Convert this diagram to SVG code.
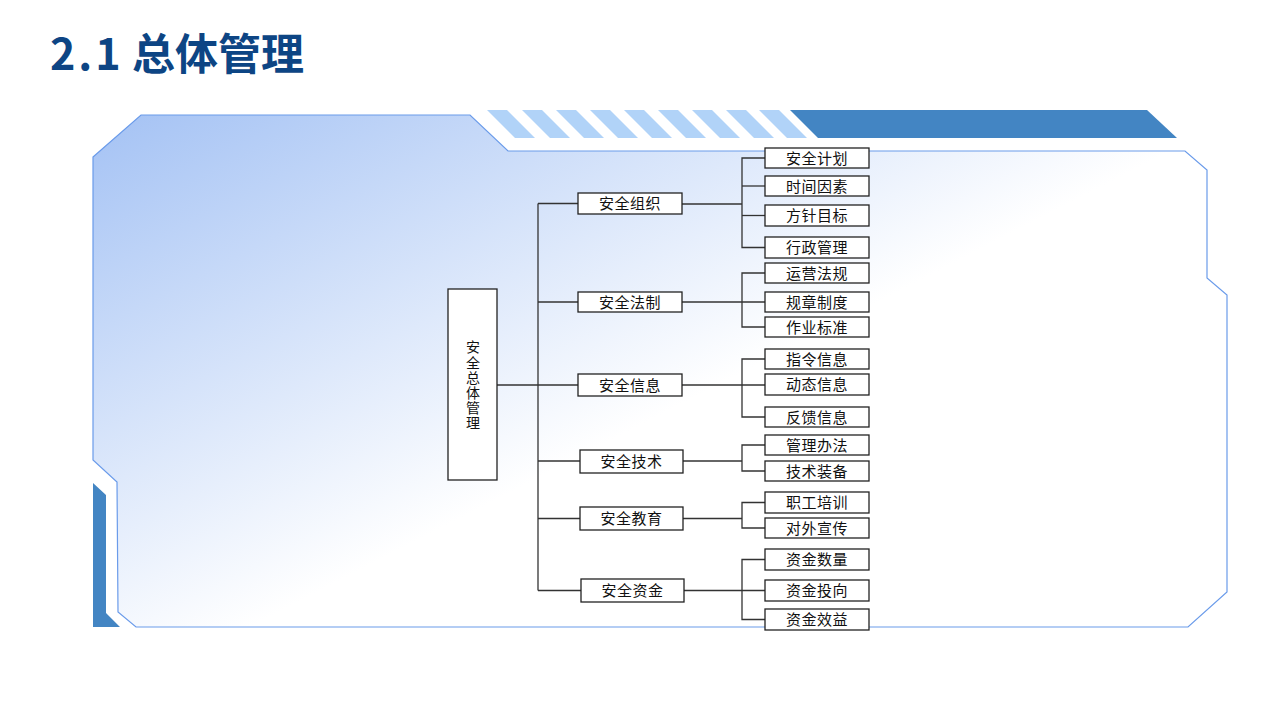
<svg xmlns="http://www.w3.org/2000/svg" width="1280" height="720" viewBox="0 0 1280 720">
  <defs>
    <linearGradient id="panelGrad" gradientUnits="userSpaceOnUse" x1="93" y1="115" x2="335" y2="583">
      <stop offset="0" stop-color="#A4C2F4"/>
      <stop offset="1" stop-color="#FFFFFF"/>
    </linearGradient>
    <style>
      .title { font-family: "Noto Sans CJK SC", "Liberation Sans", sans-serif; font-weight: 700; font-size: 43px; fill: #0D4584; }
      .box { fill: #FFFFFF; stroke: #222222; stroke-width: 1.3; }
      .lbl { font-family: "Noto Sans CJK SC", "Liberation Sans", sans-serif; font-size: 15px; fill: #111111; text-anchor: middle; letter-spacing: 0.5px; }
      .vlbl { font-family: "Noto Sans CJK SC", "Liberation Sans", sans-serif; font-size: 14px; fill: #111111; writing-mode: vertical-rl; letter-spacing: 1.2px; }
      .conn { fill: none; stroke: #333333; stroke-width: 1.3; }
      .stripe { fill: #B1D3F8; }
    </style>
  </defs>

  <rect x="0" y="0" width="1280" height="720" fill="#FFFFFF"/>

  <!-- title -->
  <text class="title" x="50" y="70"><tspan letter-spacing="3">2.1</tspan><tspan x="132">总体管理</tspan></text>

  <!-- decorative background -->
  <g id="decor">
    <polygon points="93,157 141,115 470,115 508,151 1185,151 1207,170 1207,278 1227,295 1227,592 1188,627 136,627 118,612 117,482 93,460" fill="url(#panelGrad)" stroke="#6A9BEA" stroke-width="1.2"/>
    <g id="stripes">
      <polygon class="stripe" points="487,110 507,110 535,138 515,138"/>
      <polygon class="stripe" points="522,110 542,110 570,138 550,138"/>
      <polygon class="stripe" points="556,110 576,110 604,138 584,138"/>
      <polygon class="stripe" points="590,110 610,110 638,138 618,138"/>
      <polygon class="stripe" points="624,110 644,110 672,138 652,138"/>
      <polygon class="stripe" points="658,110 678,110 706,138 686,138"/>
      <polygon class="stripe" points="692,110 712,110 740,138 720,138"/>
      <polygon class="stripe" points="726,110 746,110 774,138 754,138"/>
      <polygon class="stripe" points="759,110 779,110 807,138 787,138"/>
    </g>
    <polygon points="790,110 1147,110 1177,138 818,138" fill="#4385C3"/>
    <polygon points="93,483 106,495 106,613 120,627 93,627" fill="#4385C3"/>
  </g>

  <!-- connectors -->
  <g id="connectors">
    <line class="conn" x1="497" y1="385" x2="578" y2="385"/>
    <line class="conn" x1="538" y1="203.5" x2="538" y2="590.5"/>
    <line class="conn" x1="538" y1="203.5" x2="578" y2="203.5"/>
    <line class="conn" x1="538" y1="302" x2="578" y2="302"/>
    <line class="conn" x1="538" y1="461" x2="580" y2="461"/>
    <line class="conn" x1="538" y1="518.5" x2="580" y2="518.5"/>
    <line class="conn" x1="538" y1="590.5" x2="581" y2="590.5"/>

    <!-- group 1 -->
    <line class="conn" x1="682" y1="204" x2="742" y2="204"/>
    <polyline class="conn" points="765,158 742,158 742,247.5 765,247.5"/>
    <line class="conn" x1="742" y1="186" x2="765" y2="186"/>
    <line class="conn" x1="742" y1="215.5" x2="765" y2="215.5"/>
    <!-- group 2 -->
    <line class="conn" x1="682" y1="302" x2="765" y2="302"/>
    <polyline class="conn" points="765,273 742,273 742,327 765,327"/>
    <!-- group 3 -->
    <line class="conn" x1="682" y1="385" x2="765" y2="385"/>
    <polyline class="conn" points="765,359 742,359 742,417 765,417"/>
    <!-- group 4 -->
    <line class="conn" x1="683" y1="461" x2="742" y2="461"/>
    <polyline class="conn" points="765,445 742,445 742,471 765,471"/>
    <!-- group 5 -->
    <line class="conn" x1="683" y1="518.5" x2="742" y2="518.5"/>
    <polyline class="conn" points="765,502.5 742,502.5 742,528 765,528"/>
    <!-- group 6 -->
    <line class="conn" x1="684" y1="590.5" x2="765" y2="590.5"/>
    <polyline class="conn" points="765,559.5 742,559.5 742,619.5 765,619.5"/>
  </g>

  <!-- root -->
  <g id="root">
    <rect class="box" x="448" y="289" width="49" height="191"/>
    <text class="vlbl" x="473" y="340">安全总体管理</text>
  </g>

  <!-- level 2 -->
  <g id="n-zuzhi"><rect class="box" x="578" y="193" width="104" height="21"/><text class="lbl" x="630" y="209">安全组织</text></g>
  <g id="n-fazhi"><rect class="box" x="578" y="292" width="104" height="20"/><text class="lbl" x="630" y="307.5">安全法制</text></g>
  <g id="n-xinxi"><rect class="box" x="578" y="374" width="104" height="22"/><text class="lbl" x="630" y="390.5">安全信息</text></g>
  <g id="n-jishu"><rect class="box" x="580" y="450" width="103" height="23"/><text class="lbl" x="631.5" y="467">安全技术</text></g>
  <g id="n-jiaoyu"><rect class="box" x="580" y="507" width="103" height="23"/><text class="lbl" x="631.5" y="524">安全教育</text></g>
  <g id="n-zijin"><rect class="box" x="581" y="579" width="103" height="23"/><text class="lbl" x="632.5" y="596">安全资金</text></g>

  <!-- level 3 -->
  <g id="n-jihua"><rect class="box" x="765" y="148" width="104" height="20"/><text class="lbl" x="817" y="163.5">安全计划</text></g>
  <g id="n-shijian"><rect class="box" x="765" y="176" width="104" height="20"/><text class="lbl" x="817" y="191.5">时间因素</text></g>
  <g id="n-fangzhen"><rect class="box" x="765" y="205" width="104" height="21"/><text class="lbl" x="817" y="221">方针目标</text></g>
  <g id="n-xingzheng"><rect class="box" x="765" y="237" width="104" height="21"/><text class="lbl" x="817" y="253">行政管理</text></g>
  <g id="n-yunying"><rect class="box" x="765" y="263" width="104" height="20"/><text class="lbl" x="817" y="278.5">运营法规</text></g>
  <g id="n-guizhang"><rect class="box" x="765" y="292" width="104" height="20"/><text class="lbl" x="817" y="307.5">规章制度</text></g>
  <g id="n-zuoye"><rect class="box" x="765" y="317" width="104" height="20"/><text class="lbl" x="817" y="332.5">作业标准</text></g>
  <g id="n-zhiling"><rect class="box" x="765" y="349" width="104" height="20"/><text class="lbl" x="817" y="364.5">指令信息</text></g>
  <g id="n-dongtai"><rect class="box" x="765" y="374" width="104" height="21"/><text class="lbl" x="817" y="390">动态信息</text></g>
  <g id="n-fankui"><rect class="box" x="765" y="407" width="104" height="20"/><text class="lbl" x="817" y="422.5">反馈信息</text></g>
  <g id="n-banfa"><rect class="box" x="765" y="435" width="104" height="20"/><text class="lbl" x="817" y="450.5">管理办法</text></g>
  <g id="n-zhuangbei"><rect class="box" x="765" y="461" width="104" height="20"/><text class="lbl" x="817" y="476.5">技术装备</text></g>
  <g id="n-peixun"><rect class="box" x="765" y="492" width="104" height="21"/><text class="lbl" x="817" y="508">职工培训</text></g>
  <g id="n-xuanchuan"><rect class="box" x="765" y="518" width="104" height="20"/><text class="lbl" x="817" y="533.5">对外宣传</text></g>
  <g id="n-shuliang"><rect class="box" x="765" y="549" width="104" height="21"/><text class="lbl" x="817" y="565">资金数量</text></g>
  <g id="n-touxiang"><rect class="box" x="765" y="580" width="104" height="21"/><text class="lbl" x="817" y="596">资金投向</text></g>
  <g id="n-xiaoyi"><rect class="box" x="765" y="609" width="104" height="21"/><text class="lbl" x="817" y="625">资金效益</text></g>
</svg>
